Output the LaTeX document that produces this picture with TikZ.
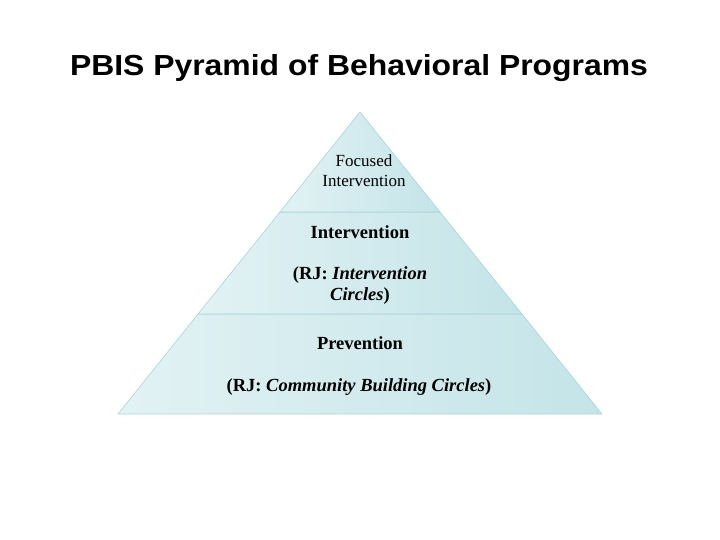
\documentclass[tikz,border=0pt]{standalone}
\usepackage{fontspec}
\setmainfont{Liberation Serif}
\setsansfont{Liberation Sans}
\usepackage{tikz}
\usetikzlibrary{positioning}

\definecolor{tierlight}{RGB}{226,242,244}
\definecolor{tierdark}{RGB}{196,228,232}
\definecolor{tieredge}{RGB}{170,212,218}

\begin{document}
\begin{tikzpicture}[
      x=1pt, y=-1pt,
      tier/.style={draw=tieredge, line width=0.6pt, left color=tierlight, right color=tierdark},
      label/.style={font=\fontsize{18.5}{21}\selectfont\bfseries, align=center}
    ]
    \useasboundingbox (0,0) rectangle (720,540);

    % Title
    \node[font=\sffamily\bfseries\fontsize{29}{32}\selectfont] (title) at (359,68) {\scalebox{1.1}[1]{PBIS Pyramid of Behavioral Programs}};

    % Tiers
    \path[tier] (118,414) -- (198,314) -- (522,314) -- (602,414) -- cycle;
    \path[tier] (198,314) -- (280,212) -- (440,212) -- (522,314) -- cycle;
    \path[tier] (280,212) -- (360,112) -- (440,212) -- cycle;

    % Top tier
    \node[font=\fontsize{17}{20}\selectfont, align=center] (focused) at (364,171) {Focused\\Intervention};

    % Middle tier
    \node[label] (intervention) at (360,232) {Intervention};
    \node[label] (rjmid) at (360,286) {(RJ: \textit{Intervention}\\\textit{Circles})};

    % Bottom tier
    \node[label] (prevention) at (360,343) {Prevention};
    \node[label] (rjlow) at (359,387) {(RJ: \textit{Community Building Circles})};

  \end{tikzpicture}
\end{document}
